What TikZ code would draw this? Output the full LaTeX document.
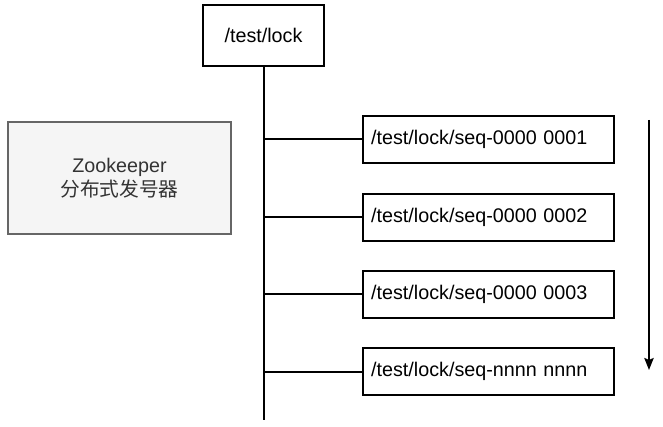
\documentclass[tikz,border=0pt]{standalone}
\usepackage{fontspec}
\setmainfont{Liberation Sans}
\newfontfamily\cjk{Noto Sans CJK SC}
\usetikzlibrary{arrows.meta}
\begin{document}
\begin{tikzpicture}[x=0.75pt,y=-0.75pt,
  every node/.style={font=\fontsize{14.8pt}{18pt}\selectfont},
  box/.style={draw=black,line width=1.5pt,fill=white,inner sep=0pt},
  seqbox/.style={box,minimum width=188.25pt,minimum height=35.25pt,text width=176pt,align=left},
  gbox/.style={draw=black!60,line width=1.5pt,fill=black!4,minimum width=167.25pt,minimum height=84pt,align=center,text=black!80},
  conn/.style={line width=1.5pt}]
\useasboundingbox (0,0) rectangle (663,427);
\node[box,minimum width=90.75pt,minimum height=45.75pt] (lock) at (263.5,35.5) {/test/lock};
\node[gbox] (zk) at (119.5,178) {Zookeeper\\{\cjk 分布式发号器}};
\node[seqbox] (s1) at (488.5,139.5) {/test/lock/seq-0000 0001};
\node[seqbox] (s2) at (488.5,217.5) {/test/lock/seq-0000 0002};
\node[seqbox] (s3) at (488.5,294.5) {/test/lock/seq-0000 0003};
\node[seqbox] (s4) at (488.5,371.5) {/test/lock/seq-nnnn nnnn};
\coordinate (trunkend) at (263.5,420);
\draw[conn] (lock.south) -- (trunkend);
\foreach \s in {s1,s2,s3,s4}
  \draw[conn] (\s.west) -- (\s.west -| lock.south);
\coordinate (a1) at (649,120);
\coordinate (a2) at (649,370);
\draw[conn,-{Stealth[length=9pt,width=7pt,inset=1.5pt]}] (a1) -- (a2);
\end{tikzpicture}
\end{document}
